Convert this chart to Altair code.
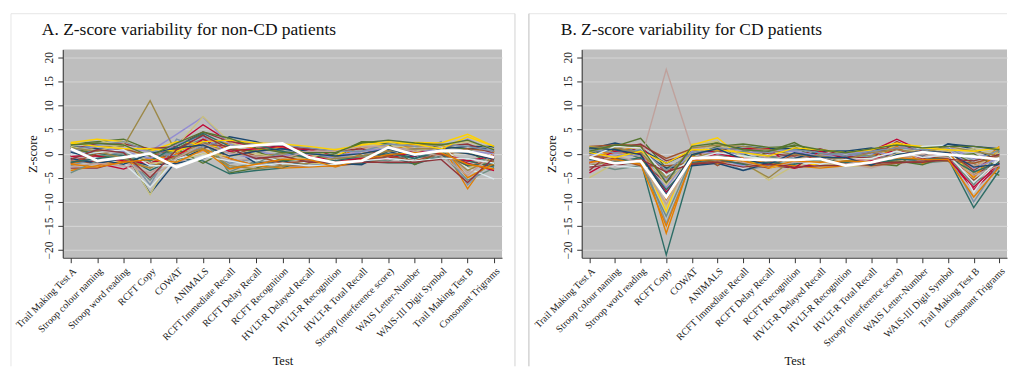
import altair as alt
import pandas as pd

tests = [
    "Trail Making Test A", "Stroop colour naming", "Stroop word reading", "RCFT Copy",
    "COWAT", "ANIMALS", "RCFT Immediate Recall", "RCFT Delay Recall", "RCFT Recognition",
    "HVLT-R Delayed Recall", "HVLT-R Recognition", "HVLT-R Total Recall",
    "Stroop (interference score)", "WAIS Letter-Number", "WAIS-III Digit Symbol",
    "Trail Making Test B", "Consonant Trigrams",
]

y_ticks = [-20, -15, -10, -5, 0, 5, 10, 15, 20]

palette = ["#1a476f", "#90353b", "#55752f", "#e37e00", "#6e8e84", "#c10534", "#938dd2",
           "#cac27e", "#a0522d", "#7b92a8", "#2d6d66", "#9c8847", "#bfa19c", "#ffd200", "#d9e6eb"]

non_cd = [
    [1.5, 1.0, 0.5, -8.3, -1.5, 1.0, 3.5, 2.5, 1.0, 0.5, -1.0, -0.5, 0.5, 1.0, 1.5, 1.0, 1.2],
    [-3.0, -3.0, -1.5, -2.0, 0.5, 2.5, -1.0, -2.5, -2.0, -1.5, -2.0, -1.0, 0.0, -0.5, -1.0, -1.5, -2.5],
    [2.0, 2.5, 3.0, 0.8, 1.0, 4.0, -4.0, -3.0, -1.5, 0.5, -1.0, 2.5, 2.2, 2.0, 1.5, 1.0, -2.0],
    [-2.0, -1.5, -2.0, -1.0, -0.5, 3.0, 2.0, 1.0, 0.5, -0.5, -1.0, 1.5, 0.5, 2.0, 2.0, -7.3, 0.5],
    [0.5, -0.5, 0.0, -5.5, 1.0, 3.0, -3.8, -1.5, -2.5, -2.0, 0.0, -1.5, -2.0, -2.0, 0.0, -5.5, -3.0],
    [-0.5, -2.0, -3.2, -1.0, 2.0, 6.0, 2.5, 1.5, 1.2, 0.8, -0.5, -1.0, -1.0, -0.5, 0.0, -2.0, -3.5],
    [0.0, 0.5, 1.0, 0.5, 4.0, 7.6, 2.0, 0.5, -0.5, 0.0, -0.5, 0.5, 1.5, 0.0, 1.0, 3.0, 0.5],
    [2.0, 3.0, 1.0, -8.5, 1.5, 7.7, 2.5, 0.0, -1.0, -2.0, -2.0, 0.8, 1.5, 1.0, 2.0, -3.0, -1.5],
    [-1.5, -2.0, -1.0, 0.0, -1.0, 1.5, 0.5, -0.5, -2.5, -2.5, -2.5, -2.0, -1.0, 0.5, -0.5, 1.0, 0.5],
    [-2.5, -1.0, 0.5, -6.5, 3.0, 1.0, -2.0, -1.0, 0.0, -0.5, -2.0, -0.5, 1.0, 0.0, 2.5, -6.5, -1.0],
    [1.0, 0.0, -0.5, -3.5, -1.0, -1.5, -4.2, -3.5, -3.0, -1.0, -1.5, -2.0, -0.5, -2.2, -0.5, -1.5, -2.8],
    [-0.5, 1.5, 1.5, 11.0, 0.0, 2.0, 0.5, -0.5, 0.0, -1.0, -0.5, -1.0, 0.5, 1.0, 0.5, 0.0, -1.0],
    [-1.0, -0.5, -1.5, -4.5, -2.0, 0.5, -1.5, -1.0, -2.0, -1.5, -1.5, 1.0, 2.0, 1.5, 1.0, -4.0, 1.0],
    [2.3, 3.0, 2.5, 0.5, 2.5, 2.0, 1.0, 0.5, 1.5, 0.0, -0.5, 2.0, 1.8, 2.3, 2.2, 4.0, 1.5],
    [0.0, -1.0, -2.0, -7.0, -1.0, 0.0, 1.0, -1.5, -1.0, -2.0, -1.0, -0.5, 0.0, -1.0, 1.5, -3.0, -5.3],
    [-1.0, -2.0, -1.0, -2.5, -2.0, -1.0, 1.5, -2.0, -1.5, -2.5, -2.0, -2.3, 0.5, -1.0, 1.0, 1.5, 1.5],
    [1.0, 2.0, 2.0, 1.0, 1.5, 4.5, 2.5, 2.0, 1.5, 1.0, 0.5, 1.0, -0.5, 0.5, 1.5, 2.0, 0.0],
    [1.5, -0.5, -1.0, -1.5, 1.0, -2.0, 1.0, 0.5, -1.5, -1.0, 0.0, 2.5, 2.0, -2.3, 0.5, 0.5, -2.5],
    [-3.5, -2.5, -1.5, -3.0, 0.0, 1.0, -1.0, -2.5, -3.0, -2.8, -2.5, 0.0, 1.0, 1.5, 2.0, -5.0, -2.0],
    [-4.0, -1.5, 0.0, -1.0, 0.5, 2.5, -3.0, -2.0, 0.5, 0.0, -1.0, -1.0, -1.5, 0.0, -1.0, -1.0, -1.5],
    [-0.5, -0.5, -1.5, -2.0, -0.5, 3.0, 0.5, 1.0, 1.5, -0.5, -1.5, -1.0, -1.0, 0.5, 0.0, -1.5, -0.5],
    [0.5, 1.5, 0.5, -1.0, 2.0, 3.5, 0.0, -1.0, -0.5, 0.5, -1.0, 0.5, 1.0, 1.0, 0.5, 0.5, 0.0],
    [1.5, 0.5, 2.0, -2.0, -1.5, 0.0, -0.5, 0.0, -1.0, -1.0, 1.0, 1.5, 2.5, 0.5, 1.5, 2.5, 1.0],
    [-2.0, 0.0, 1.0, -0.5, 1.0, 2.0, 1.5, -0.5, -2.0, -1.5, -2.0, -1.5, -0.5, -1.5, 0.0, -2.5, -1.5],
    [0.8, 1.8, 2.5, 0.5, -0.5, 1.5, 3.0, 2.0, 1.8, 1.2, 0.5, 0.5, 2.0, 1.5, 2.0, 1.5, 0.5],
    [-1.8, -1.0, -0.5, -1.5, 1.5, 4.2, 1.5, 1.8, 0.5, -1.0, -1.5, -0.5, 0.0, -1.0, 0.5, -2.5, -2.0],
    [1.2, 0.5, -1.0, -3.0, -0.5, 1.0, -2.5, -3.2, -2.5, -2.0, -1.0, -0.5, 0.5, 1.0, 1.0, -3.5, -1.0],
    [-2.8, -2.0, -2.5, -4.0, -1.0, 2.0, 0.0, -0.5, -1.0, 0.5, 0.5, 1.5, 1.5, 0.5, -0.5, -4.5, 0.0],
    [2.2, 1.5, 1.0, 1.0, 0.5, 2.5, 2.8, 2.2, 2.0, 1.5, 0.8, 1.8, 2.5, 2.0, 1.0, 3.5, 1.5],
    [-0.3, 0.2, 0.8, -2.5, -2.5, -0.5, -1.5, -2.5, -2.0, -2.5, -2.2, -1.5, -1.0, -1.5, -1.0, -1.0, -2.0],
    [0.3, -1.2, -2.2, 0.0, 1.2, 1.8, -0.5, 0.5, 1.0, 0.0, -0.5, 0.0, 1.0, -0.5, 0.8, 0.0, -1.2],
    [-1.2, 0.8, 0.2, -5.0, 0.8, 3.8, 1.0, -1.0, -0.5, -1.8, -1.8, -1.8, -1.8, -1.8, -1.2, -6.0, -0.8],
    [1.8, 2.2, 1.8, -0.5, 2.2, 4.5, 3.2, 1.2, 0.2, 0.2, 0.2, 2.2, 2.8, 2.2, 1.8, 2.8, 0.8],
    [-2.2, -2.8, -1.8, -1.2, -1.8, 0.8, -3.2, -2.2, -1.2, -1.2, -2.8, -1.2, -0.2, 0.2, 0.2, -2.2, -3.2],
]
mean_non_cd = [1.0, -1.5, -0.8, 0.0, -2.8, -0.8, 1.3, 1.7, 2.1, -0.8, -1.9, -1.5, 1.3, -0.2, 0.6, 0.5, -0.8]

cd = [
    [1.0, 2.2, 1.0, -2.0, 0.5, 0.5, 1.5, 1.0, 1.0, 0.5, 0.5, 0.0, -0.5, 0.0, 2.0, 1.5, 1.0],
    [-1.0, -2.5, -1.5, -6.0, -1.0, -0.5, -1.0, -2.5, -3.0, -2.0, -1.0, -1.5, 0.0, -0.5, -1.0, -4.5, -1.5],
    [1.0, 1.5, 3.2, -3.0, -0.5, 2.5, -2.0, 0.5, 2.3, -0.5, -1.5, -2.0, -2.5, 1.0, 0.5, -2.0, -4.5],
    [0.5, 0.0, 0.5, -16.5, -1.0, 0.5, -1.5, -3.0, -2.0, -1.0, -2.0, -0.5, 1.5, 0.5, 0.0, -3.0, 1.5],
    [-2.0, -3.3, -2.5, -5.0, -2.0, -2.0, -0.5, -1.0, 0.0, -2.5, -2.0, -1.0, -1.5, -2.0, -1.5, -6.0, -3.0],
    [-4.0, -1.0, 1.5, -4.0, 0.0, 0.5, 1.0, 1.0, -3.0, -2.0, -1.0, 0.5, 3.0, 0.5, -1.0, -7.5, -2.5],
    [0.0, -1.5, -1.0, -7.0, 0.0, -1.0, -2.5, -1.5, 0.0, -1.5, -0.5, 0.0, 1.5, 1.0, 1.5, -1.0, 0.5],
    [-5.0, -2.0, -1.0, -11.0, 2.0, 2.5, -1.5, -5.5, -2.5, -1.5, -2.5, -2.7, -1.5, 0.0, -1.0, -2.0, -1.0],
    [1.5, 1.8, 1.8, -1.0, 1.0, -2.5, 0.5, -0.5, -1.5, 0.0, -0.5, 1.0, 1.0, -1.0, -1.5, -5.5, -2.0],
    [-1.5, -0.5, 0.0, -14.5, -1.5, -1.0, -3.5, -2.5, -0.5, -1.0, 0.5, -1.0, -2.0, -1.0, 0.0, -10.0, -2.0],
    [0.5, -1.0, -1.5, -21.0, -2.5, -1.0, 0.0, -2.0, -1.0, -1.5, -1.5, -2.0, -1.0, -1.5, -1.0, -11.2, -3.5],
    [-2.5, -1.5, -2.0, -3.5, -1.0, 0.5, -2.0, -5.0, -1.0, -0.5, -1.5, -1.5, -0.5, 1.0, 0.5, -4.0, -1.5],
    [-3.0, -2.0, -1.5, 17.5, 1.0, 1.5, 0.5, -1.0, -0.5, -1.0, -2.0, -3.0, -1.5, -0.5, 0.0, -2.5, -1.0],
    [1.5, 0.5, -0.5, -12.0, 1.8, 3.3, -1.0, -3.0, -1.5, -2.5, -2.5, -1.0, 2.0, 1.5, 1.0, -5.0, 1.0],
    [-2.5, -2.5, -3.0, -2.5, -1.5, -1.5, -3.0, -1.5, -2.0, -2.0, -1.0, -1.5, -1.0, 1.5, 1.8, -8.0, -0.5],
    [0.0, 1.0, 0.5, -3.0, -2.5, -2.0, -3.5, -2.0, -1.0, 0.5, 0.5, 1.2, 0.0, -0.5, 2.0, 1.0, -1.5],
    [-3.5, 1.0, 2.0, -1.5, 0.0, 1.0, 1.0, 0.0, -0.5, 1.0, -0.5, -1.0, 2.5, 0.0, 0.5, -3.5, 0.0],
    [1.2, 1.0, -1.0, -4.5, -0.5, 1.5, 2.0, 1.3, 1.5, -1.5, -1.5, -2.0, -1.5, -2.3, -0.5, 0.0, -3.0],
    [-1.0, 0.5, 1.5, -9.5, -0.5, -2.0, -1.0, -2.0, -2.5, -3.0, -2.5, -1.5, 1.5, -2.0, 0.0, -5.0, 1.0],
    [1.0, -2.0, -2.0, -13.0, -1.0, -0.5, 0.5, -0.5, -2.0, 0.0, 0.0, -0.5, -1.0, 0.5, -0.5, -6.5, 0.5],
    [-2.0, 0.5, 0.0, -8.0, -1.5, 0.0, -1.0, -1.5, -3.0, 0.5, -1.0, -1.5, 1.0, -1.0, -1.0, -7.0, -2.0],
    [-1.5, 0.0, -0.5, -5.5, 0.5, 0.0, 0.0, 0.5, 0.5, -0.5, 0.0, 0.5, -0.5, -1.5, 1.0, -3.0, -1.0],
    [0.5, 1.5, 1.0, -6.5, 0.0, 2.0, -0.5, -1.5, -1.5, -2.0, -2.6, -2.0, 0.0, 1.0, 0.5, 1.0, 0.0],
    [-0.5, -1.0, -2.5, -2.5, -2.0, -1.5, -2.0, -3.0, 0.0, -1.0, -2.0, -2.5, -2.0, -1.5, -1.5, -2.0, -0.5],
    [0.8, 0.2, 0.8, -3.5, 0.2, 1.2, 0.8, 0.2, 0.8, 0.2, -0.5, 0.5, 1.2, 0.8, 1.2, -1.5, 0.8],
    [-1.2, -1.8, -0.8, -7.5, -1.8, -1.2, -2.2, -1.8, -2.2, -1.2, -1.8, -2.2, -1.2, -1.2, -0.8, -3.8, -1.8],
    [1.4, 1.2, 0.2, -5.0, 1.2, 1.8, 1.5, 0.8, -0.2, -0.5, -1.2, 0.2, 0.8, 0.2, 1.5, 0.5, -0.5],
    [-2.2, -0.5, -1.8, -10.5, -0.8, -0.5, -1.8, -2.8, -1.8, -1.8, -2.2, -1.2, -0.8, -0.2, -0.8, -4.5, -2.5],
    [0.2, -0.8, 0.5, -2.0, 0.8, 0.8, 0.2, -0.5, 1.2, 0.8, 0.2, 0.8, 2.2, 1.2, 0.8, 0.5, 1.2],
    [-0.8, 1.5, 1.2, -4.5, -1.2, 0.2, -0.5, -1.2, -1.2, -2.2, -1.2, -1.0, 0.5, -0.8, -0.2, -6.0, -1.2],
    [1.2, 0.8, -0.2, -8.5, -0.2, 1.0, -1.2, -2.2, 0.2, -0.8, -0.8, -2.4, -0.2, 0.5, 0.2, -2.8, -2.2],
    [-2.8, -2.2, -1.2, -3.8, -2.2, -1.8, -2.8, -2.2, -2.8, -2.5, -2.4, -2.0, -1.8, -1.8, -1.2, -1.5, -0.2],
    [0.5, 1.8, 1.5, -6.0, 1.5, 2.2, 0.8, 0.5, 1.8, 0.8, 0.2, 1.0, 1.8, 1.2, 1.5, 1.5, 0.8],
    [-1.8, -1.2, -2.2, -15.0, -1.5, -1.2, -1.5, -2.8, -1.5, -1.8, -1.5, -1.8, -0.8, -1.2, -1.2, -9.0, -2.8],
]
mean_cd = [-0.8, -2.0, -1.5, -9.0, -1.0, -0.8, -1.2, -1.3, -1.3, -1.1, -2.5, -1.8, -0.6, 0.3, -0.2, -0.6, -1.2]

titles = ["A. Z-score variability for non-CD patients", "B. Z-score variability for CD patients"]

FONT = "Liberation Serif"
PLOT_H = 209


def long_df(rows):
    recs = []
    for i, row in enumerate(rows):
        for t, v in zip(tests, row):
            recs.append({"patient": i, "test": t, "z": v})
    return pd.DataFrame(recs)


def frame_layers(title, left, right, left_color, right_color):
    """Panel heading text plus the thin outline drawn around each graph region."""
    one = alt.Chart(pd.DataFrame({"t": [title]}))
    head = one.mark_text(align="left", baseline="middle", fontSize=17.5, font=FONT,
                         color="#111").encode(text="t:N", x=alt.value(-21), y=alt.value(-20))
    top = one.mark_rule(color="#e6e6e6", strokeWidth=1).encode(
        x=alt.value(left), x2=alt.value(right), y=alt.value(-36))
    lft = one.mark_rule(color=left_color, strokeWidth=1).encode(
        x=alt.value(left), y=alt.value(-36), y2=alt.value(318))
    layers = [head, top, lft]
    if right_color:
        rgt = one.mark_rule(color=right_color, strokeWidth=1).encode(
            x=alt.value(right), y=alt.value(-36), y2=alt.value(318))
        layers.append(rgt)
    return layers


def panel(rows, mean, width, deco):
    df = long_df(rows)
    mdf = pd.DataFrame({"test": tests, "z": mean})
    x = alt.X("test:N", sort=tests, title="Test",
              scale=alt.Scale(type="point", padding=0.3),
              axis=alt.Axis(labelAngle=-45, labelFontSize=10, labelPadding=3,
                            tickSize=5, titleFontSize=12.5, titlePadding=6,
                            grid=False, labelOverlap=False))
    y = alt.Y("z:Q", title="Z-score",
              scale=alt.Scale(domain=[-21.6, 21.6], nice=False, zero=False),
              axis=alt.Axis(values=y_ticks, labelAngle=-90, labelAlign="center",
                            labelBaseline="bottom", labelFontSize=11.5, labelPadding=3,
                            tickSize=5, titleFontSize=12.5, titlePadding=4,
                            grid=True, gridColor="#d6d6d6", gridWidth=1))
    lines = alt.Chart(df).mark_line(strokeWidth=1.4).encode(
        x=x, y=y,
        color=alt.Color("patient:N", scale=alt.Scale(range=palette), legend=None),
        detail="patient:N",
    )
    meanl = alt.Chart(mdf).mark_line(color="white", strokeWidth=2.8).encode(x=x, y=y)
    return alt.layer(lines, meanl, *deco).properties(width=width, height=PLOT_H)


a = panel(non_cd, mean_non_cd, 441, frame_layers(titles[0], -52, 454, "#e6e6e6", "#d2d2d2"))
b = panel(cd, mean_cd, 427, frame_layers(titles[1], -53, 427, "#bcbcbc", None))

chart = alt.hconcat(a, b, spacing=12).properties(
    padding={"left": 2, "top": 4, "right": 0, "bottom": 0}
).configure(
    background="white"
).configure_view(
    fill="#bebebe", stroke=None
).configure_axis(
    labelFont=FONT, titleFont=FONT, labelColor="#222", titleColor="#111",
    domainColor="#333", tickColor="#333", titleFontWeight="normal",
)

chart.save("out.html", embed_options={"renderer": "svg", "actions": False})
